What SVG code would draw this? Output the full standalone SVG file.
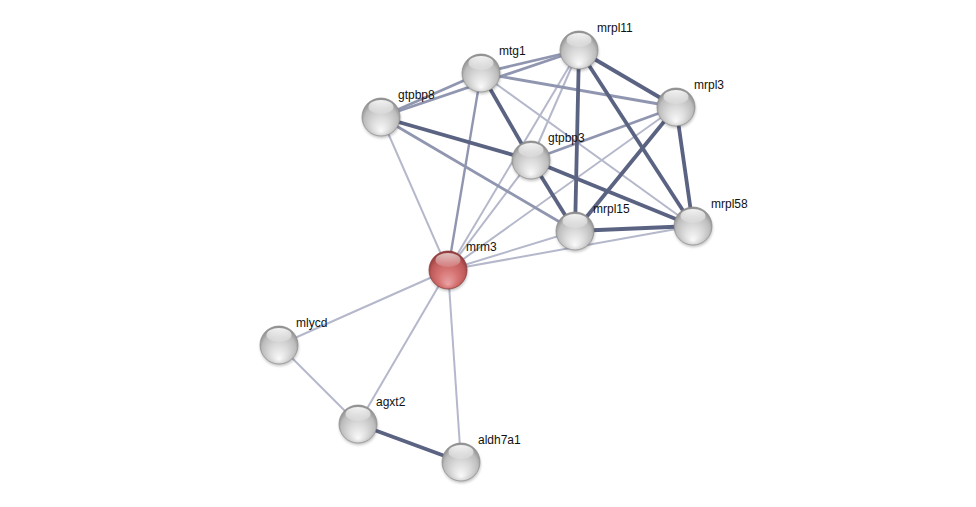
<svg xmlns="http://www.w3.org/2000/svg" width="976" height="507" viewBox="0 0 976 507">
<defs>
<radialGradient id="gw" cx="50%" cy="55%" r="55%" fx="50%" fy="88%">
<stop offset="0" stop-color="#fafafa"/>
<stop offset="0.45" stop-color="#dadada"/>
<stop offset="0.8" stop-color="#bdbdbd"/>
<stop offset="1" stop-color="#8a8a8a"/>
</radialGradient>
<radialGradient id="gr" cx="50%" cy="55%" r="55%" fx="50%" fy="88%">
<stop offset="0" stop-color="#eaa4a4"/>
<stop offset="0.45" stop-color="#d67474"/>
<stop offset="0.8" stop-color="#c05a5a"/>
<stop offset="1" stop-color="#8e3838"/>
</radialGradient>
<linearGradient id="hl" x1="0" y1="0" x2="0" y2="1">
<stop offset="0" stop-color="#ffffff" stop-opacity="0.9"/>
<stop offset="1" stop-color="#ffffff" stop-opacity="0.15"/>
</linearGradient>
<filter id="sh" x="-50%" y="-50%" width="200%" height="200%">
<feGaussianBlur stdDeviation="1.5"/>
</filter>
<g id="sw">
<circle cx="0.5" cy="2" r="19" fill="#000" opacity="0.25" filter="url(#sh)"/>
<circle r="19" fill="url(#gw)" stroke="#8c8c8c" stroke-width="0.7"/>
<ellipse cx="0" cy="-10" rx="12.5" ry="7" fill="url(#hl)"/>
</g>
<g id="sr">
<circle cx="0.5" cy="2" r="19" fill="#000" opacity="0.25" filter="url(#sh)"/>
<circle r="19" fill="url(#gr)" stroke="#8a3434" stroke-width="0.7"/>
<ellipse cx="0" cy="-10" rx="12.5" ry="7" fill="url(#hl)" opacity="0.75"/>
</g>
</defs>
<style>
.d{stroke:#5b6382;stroke-width:3.8;fill:none}
.m{stroke:#9096b0;stroke-width:2.8;fill:none}
.l{stroke:#b5b8cb;stroke-width:2;fill:none}
text{font-family:"Liberation Sans",Arial,sans-serif;font-size:12px;fill:#111}
</style>
<rect width="976" height="507" fill="#ffffff"/>
<g id="edges">
<line class="l" x1="481" y1="73" x2="693" y2="226"/>
<line class="l" x1="381" y1="117" x2="448" y2="270"/>
<line class="l" x1="579" y1="50" x2="531" y2="160"/>
<line class="l" x1="579" y1="50" x2="448" y2="270"/>
<line class="l" x1="676" y1="107" x2="448" y2="270"/>
<line class="l" x1="531" y1="160" x2="448" y2="270"/>
<line class="l" x1="575" y1="231" x2="448" y2="270"/>
<line class="l" x1="693" y1="226" x2="448" y2="270"/>
<line class="l" x1="448" y1="270" x2="279" y2="345"/>
<line class="l" x1="448" y1="270" x2="358" y2="424"/>
<line class="l" x1="448" y1="270" x2="461" y2="462"/>
<line class="l" x1="279" y1="345" x2="358" y2="424"/>
<line class="m" x1="381" y1="117" x2="481" y2="73"/>
<line class="m" x1="381" y1="117" x2="579" y2="50"/>
<line class="m" x1="481" y1="73" x2="579" y2="50"/>
<line class="m" x1="481" y1="73" x2="676" y2="107"/>
<line class="m" x1="481" y1="73" x2="448" y2="270" style="stroke-width:2.4"/>
<line class="m" x1="381" y1="117" x2="575" y2="231"/>
<line class="m" x1="676" y1="107" x2="531" y2="160"/>
<line class="d" x1="481" y1="73" x2="531" y2="160"/>
<line class="d" x1="381" y1="117" x2="531" y2="160"/>
<line class="d" x1="579" y1="50" x2="676" y2="107"/>
<line class="d" x1="579" y1="50" x2="575" y2="231"/>
<line class="d" x1="579" y1="50" x2="693" y2="226"/>
<line class="d" x1="676" y1="107" x2="575" y2="231"/>
<line class="d" x1="676" y1="107" x2="693" y2="226"/>
<line class="d" x1="531" y1="160" x2="575" y2="231"/>
<line class="d" x1="531" y1="160" x2="693" y2="226"/>
<line class="d" x1="575" y1="231" x2="693" y2="226"/>
<line class="d" x1="358" y1="424" x2="461" y2="462"/>
</g>
<g id="mtg1"><use href="#sw" x="481" y="73"/><text x="499" y="55">mtg1</text></g>
<g id="mrpl11"><use href="#sw" x="579" y="50"/><text x="597" y="32">mrpl11</text></g>
<g id="mrpl3"><use href="#sw" x="676" y="107"/><text x="694" y="89">mrpl3</text></g>
<g id="gtpbp8"><use href="#sw" x="381" y="117"/><text x="398" y="99">gtpbp8</text></g>
<g id="gtpbp3"><use href="#sw" x="531" y="160"/><text x="548" y="142">gtpbp3</text></g>
<g id="mrpl15"><use href="#sw" x="575" y="231"/><text x="593" y="213">mrpl15</text></g>
<g id="mrpl58"><use href="#sw" x="693" y="226"/><text x="711" y="208">mrpl58</text></g>
<g id="mrm3"><use href="#sr" x="448" y="270"/><text x="466" y="251">mrm3</text></g>
<g id="mlycd"><use href="#sw" x="279" y="345"/><text x="296" y="327">mlycd</text></g>
<g id="agxt2"><use href="#sw" x="358" y="424"/><text x="376" y="406">agxt2</text></g>
<g id="aldh7a1"><use href="#sw" x="461" y="462"/><text x="478" y="444">aldh7a1</text></g>
</svg>
